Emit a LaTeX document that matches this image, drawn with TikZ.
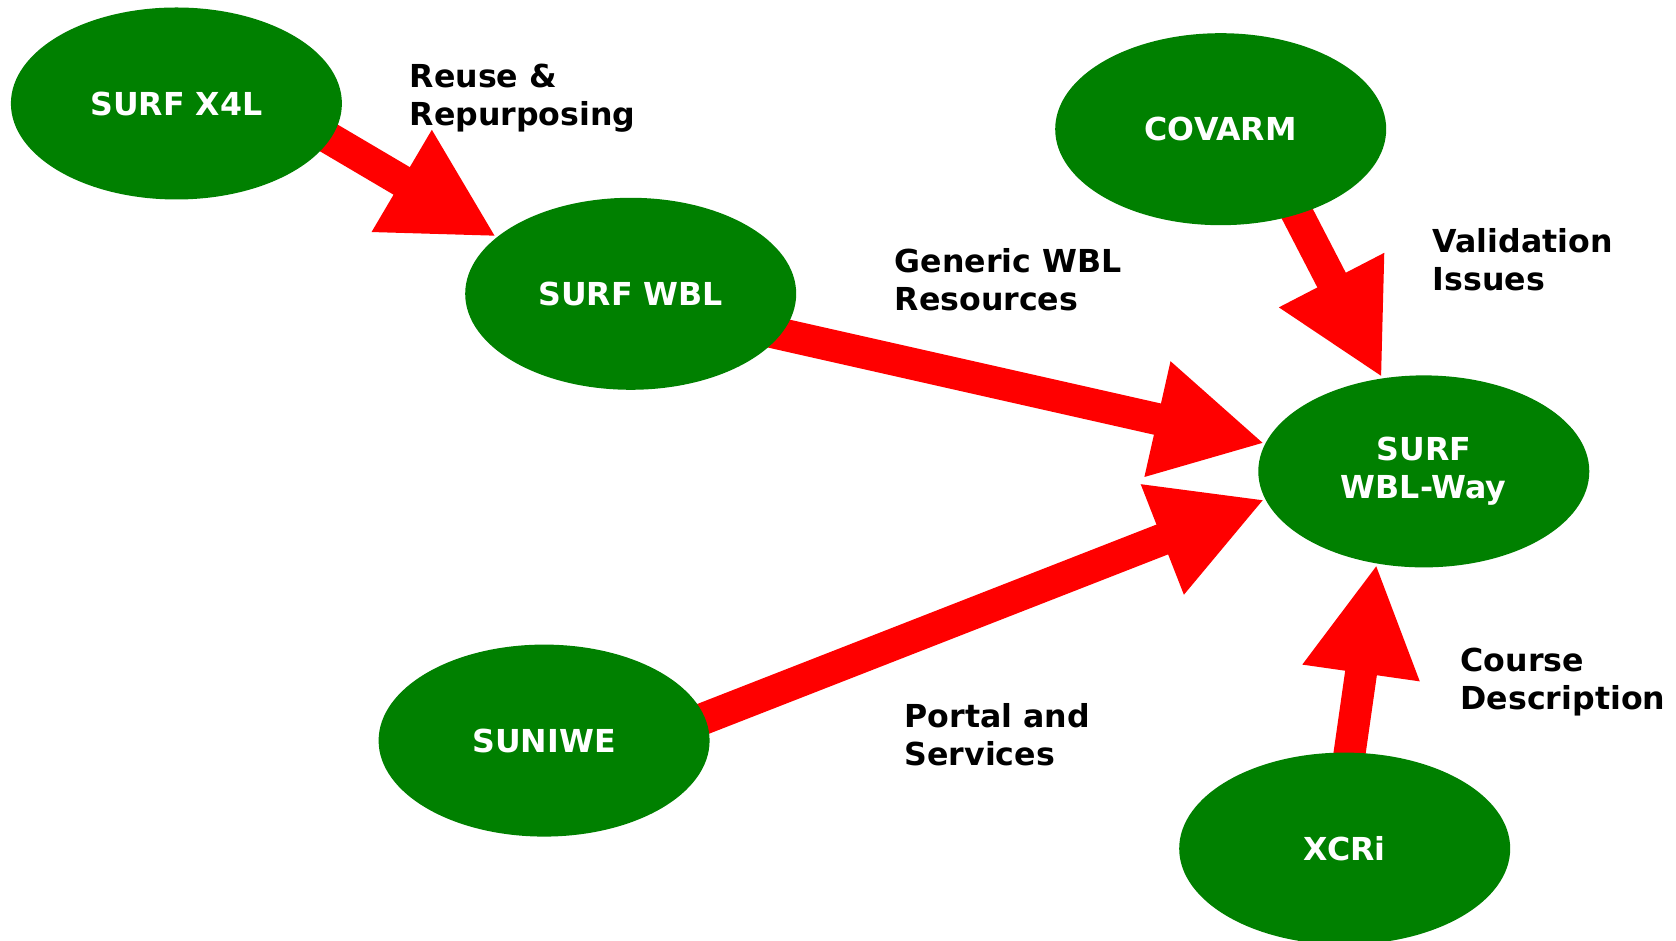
\documentclass[tikz,border=0pt]{standalone}
\usepackage{fontspec}
\setmainfont{DejaVu Sans}
\usepackage{xcolor}
\usepackage{tikz}
\usetikzlibrary{arrows.meta}
\usetikzlibrary{shapes.geometric}
\usetikzlibrary{backgrounds}
\definecolor{leafgreen}{RGB}{0,128,0}

\begin{document}
\begin{tikzpicture}[font=\fontsize{9}{10.9}\selectfont\bfseries,
blob/.style={ellipse,fill=leafgreen,text=white,minimum width=3.31cm,minimum height=1.92cm,inner sep=0pt,align=center},
tag/.style={anchor=west,align=left,inner sep=0pt},
feed/.style={draw=red,line width=3.2mm,shorten <=-5mm,-{Triangle[length=11mm,width=11mm]}}]
\useasboundingbox(0,0)rectangle(16.76,9.41);

\node[blob](x4l)at(1.764,8.375){SURF X4L};
\node[blob](wbl)at(6.307,6.472){SURF WBL};
\node[blob](covarm)at(12.207,8.118){COVARM};
\node[blob](way)at(14.238,4.696){SURF\\WBL-Way};
\node[blob](suniwe)at(5.441,2.004){SUNIWE};
\node[blob](xcri)at(13.447,0.924){XCRi};

\node[tag](reuse)at(4.09,8.43){Reuse \&\\Repurposing};
\node[tag](generic)at(8.94,6.61){Generic WBL\\Resources};
\node[tag](valid)at(14.32,6.81){Validation\\Issues};
\node[tag](course)at(14.60,2.59){Course\\Description};
\node[tag](portal)at(9.04,2.06){Portal and\\Services};

\begin{pgfonlayer}{background}
\draw[feed](x4l.-13)--(wbl.157);
\draw[feed](wbl.-15)--(way.170);
\draw[feed](covarm.-48)--(way.114);
\draw[feed](suniwe.8)--(way.190);
\draw[feed](xcri.87)--(way.243);
\end{pgfonlayer}

\end{tikzpicture}
\end{document}
